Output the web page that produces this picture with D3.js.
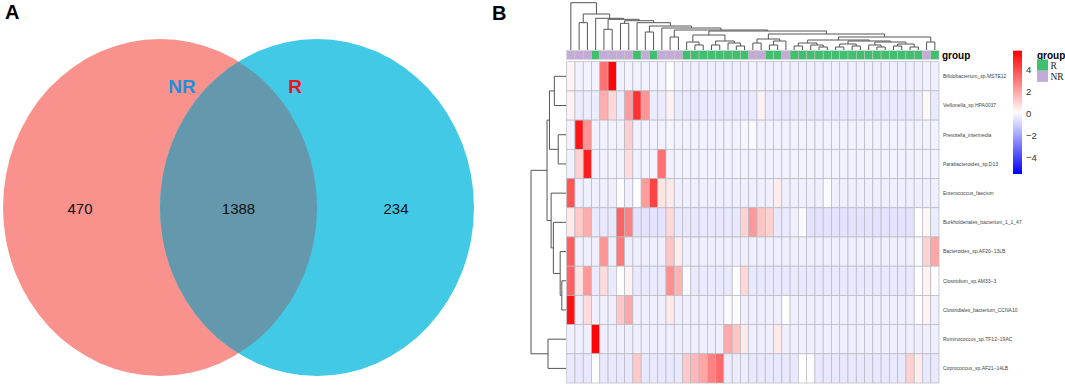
<!DOCTYPE html>
<html>
<head>
<meta charset="utf-8">
<script src="https://cdn.jsdelivr.net/npm/d3@7"></script>
<style>
  body { margin: 0; background: #fff; }
</style>
</head>
<body>
<div id="container"></div>
<script>
let w = 1065;
let h = 388;

// ---- panel A: venn ----
let vennSets = ["NR", "R"];
let vennColors = ["#f9928c", "#42c9e6"];
let vennOverlapColor = "#6498ac";
let vennLabelColors = ["#1e8fdc", "#e8141e"];
let vennCounts = [470, 1388, 234]; // NR only, both, R only

// ---- panel B: heatmap ----
let taxa = [
  "Bifidobacterium_sp.MSTE12",
  "Veillonella_sp.HPA0037",
  "Prevotella_intermedia",
  "Parabacteroides_sp.D13",
  "Enterococcus_faecium",
  "Burkholderiales_bacterium_1_1_47",
  "Bacteroides_sp.AF20\u221213LB",
  "Clostridium_sp.AM33\u22123",
  "Clostridiales_bacterium_CCNA10",
  "Ruminococcus_sp.TF12\u221219AC",
  "Coprococcus_sp.AF21\u221214LB"
];

let groups = [
  "NR","NR","NR","R","NR","NR","NR","NR","R","NR","R","NR","NR","NR","R",
  "R","R","R","R","R","R","R","NR","NR","R","R","NR","R","R","R",
  "R","R","R","R","R","R","R","R","R","R","R","R","R","NR","R"
];

let bifido = [0.25,-0.3,-0.3,-0.3,3.2,5.6,-0.3,-0.3,-0.3,-0.3,-0.3,-0.3,0.0,-0.3,-0.35,
  -0.35,-0.35,-0.35,-0.35,-0.35,-0.35,-0.35,-0.3,-0.3,-0.35,-0.35,-0.3,-0.35,-0.35,-0.35,
  -0.35,-0.35,-0.35,-0.35,-0.35,-0.35,-0.35,-0.35,-0.35,-0.35,-0.35,-0.35,-0.35,-0.3,-0.35];
let veillonella = [0.3,-0.4,-0.4,-0.4,1.8,0.9,-0.4,2.2,4.6,2.4,-0.4,-0.4,0.3,-0.45,-0.45,
  -0.45,-0.45,-0.45,-0.45,-0.45,-0.45,-0.45,-0.45,0.3,-0.45,-0.45,-0.45,-0.45,-0.45,-0.45,
  -0.45,-0.45,-0.45,-0.45,-0.45,-0.45,-0.45,-0.45,-0.45,-0.45,-0.45,-0.45,-0.4,0.15,-0.45];
let prevotella = [-0.3,5.2,2.4,-0.3,-0.3,-0.3,-0.3,1.1,-0.3,-0.3,-0.3,-0.3,-0.2,-0.3,-0.3,
  -0.3,-0.3,-0.3,-0.3,-0.3,-0.3,-0.2,-0.15,-0.3,-0.3,-0.3,-0.3,-0.3,-0.3,-0.3,
  -0.3,-0.3,-0.3,-0.3,-0.3,-0.3,-0.3,-0.3,-0.3,-0.3,-0.3,-0.3,-0.3,-0.3,-0.3];
let parabacteroides = [-0.3,1.0,5.0,-0.3,-0.3,-0.3,-0.3,0.8,-0.3,-0.3,-0.3,3.2,-0.3,-0.3,-0.3,
  -0.3,-0.3,-0.3,-0.3,-0.3,-0.3,-0.3,-0.3,-0.3,-0.3,-0.3,-0.3,-0.3,-0.3,-0.3,
  -0.3,-0.3,-0.3,-0.3,-0.3,-0.3,-0.3,-0.3,-0.3,-0.3,-0.3,-0.3,-0.3,-0.3,-0.3];
let enterococcus = [3.8,-0.35,-0.35,-0.35,-0.35,-0.35,0.05,-0.35,0.0,2.2,4.2,0.6,0.5,-0.35,-0.35,
  -0.35,-0.35,-0.35,-0.35,-0.35,-0.35,-0.35,-0.35,-0.35,-0.35,0.4,-0.35,-0.35,-0.35,-0.35,
  -0.35,-0.05,-0.35,-0.35,-0.35,-0.35,-0.35,-0.35,-0.35,-0.35,-0.35,-0.35,-0.35,-0.35,-0.35];
let burkholderiales = [0.5,1.2,1.8,-0.5,-0.5,-0.5,3.5,2.8,-0.6,-0.6,-0.6,-0.6,0.9,-0.5,-0.5,
  -0.5,-0.5,-0.5,-0.5,-0.5,-0.5,1.0,2.3,1.3,1.0,-0.5,-0.45,-0.35,-0.1,-0.6,
  -0.6,-0.6,-0.6,-0.6,-0.6,-0.6,-0.6,-0.6,-0.6,-0.6,-0.6,-0.6,0.0,0.2,-0.4];
let bacteroides = [3.6,-0.35,-0.35,-0.35,2.4,-0.35,3.0,-0.35,-0.35,-0.35,-0.35,-0.35,1.3,0.4,-0.35,
  -0.35,-0.35,-0.35,-0.35,-0.35,-0.35,-0.35,-0.35,-0.35,-0.35,-0.35,-0.35,-0.35,-0.35,-0.35,
  -0.35,-0.35,-0.35,-0.35,-0.35,-0.35,-0.35,-0.35,-0.35,-0.35,-0.35,-0.35,-0.1,1.0,2.0];
let clostridium = [3.5,0.6,2.3,-0.45,0.8,-0.45,0.0,0.3,-0.45,-0.45,-0.45,-0.45,2.5,1.7,-0.1,
  -0.45,-0.45,-0.45,-0.45,-0.45,-0.05,0.9,-0.5,-0.5,-0.5,-0.5,-0.5,-0.5,-0.5,-0.5,
  -0.5,-0.5,-0.5,-0.5,-0.5,-0.5,-0.5,-0.5,-0.5,-0.5,-0.5,-0.5,0.0,0.3,-0.05];
let clostridiales = [5.3,-0.35,0.8,-0.35,-0.35,-0.35,1.2,2.0,-0.35,-0.35,-0.35,-0.35,0.5,-0.35,-0.35,
  -0.35,-0.35,-0.35,-0.35,-0.1,-0.1,-0.35,-0.35,-0.35,-0.35,-0.35,0.0,-0.35,-0.35,-0.35,
  -0.35,-0.35,-0.35,-0.35,-0.35,-0.35,-0.35,-0.35,-0.35,-0.35,-0.35,-0.35,-0.05,0.3,-0.35];
let ruminococcus = [-0.35,-0.35,-0.35,5.6,-0.35,-0.35,-0.35,-0.35,-0.35,-0.35,-0.35,-0.35,-0.35,-0.35,-0.35,
  -0.35,-0.35,-0.35,-0.35,1.9,1.3,0.5,-0.35,-0.35,-0.35,0.5,-0.35,-0.35,-0.35,-0.35,
  -0.35,-0.35,-0.35,-0.35,-0.35,-0.35,-0.35,-0.35,-0.35,-0.35,-0.35,-0.35,-0.35,-0.35,-0.35];
let coprococcus = [-0.5,-0.5,-0.5,0.0,-0.5,-0.5,-0.5,-0.5,1.2,-0.5,-0.5,-0.5,-0.5,-0.5,1.2,
  1.6,2.0,2.8,3.3,-0.4,-0.4,-0.4,-0.5,-0.5,-0.5,-0.5,-0.5,-0.5,0.0,-0.05,
  -0.5,-0.5,-0.5,-0.5,-0.5,-0.5,-0.5,-0.5,-0.5,-0.5,-0.5,1.0,0.4,-0.5,-0.5];

let values = [bifido, veillonella, prevotella, parabacteroides, enterococcus,
  burkholderiales, bacteroides, clostridium, clostridiales, ruminococcus, coprococcus];

// dendrograms as nested [height, left, right], leaves are indices
let colTree = [47.3, 0,
  [36, [27.3, 1, 2],
    [31.7, 3,
      [30.7, [20.7, 4, 5],
        [29.3, [26.7, 6, 7],
          [27.3, 8,
            [24, [18, 9, 10],
              [22, 11,
                [20, [13, 12, 13],
                  [19,
                    [15, [8, 14, [5, 15, 16]], [9, [5, 17, 18], [7, 19, [4, 20, 21]]]],
                    [16,
                      [11, [7, 22, 23], [9, [5, 24, 25], 26]],
                      [13,
                        [10, [7, [4, 27, 28], [5, 29, [3, 30, 31]]],
                             [9, [6, [3, 32, 33], [4, 34, 35]],
                                 [8, [5, 36, [3, 37, 38]], [6, [4, 39, 40], [3, 41, 42]]]]],
                        [8, 43, 44]]]]]]]]]]]]];

let rowTree = [36,
  [19.5, [17, [12, 0, 1], [8, 2, 3]], [15.3, 4, [13, 5, [6, 6, [4.3, 7, 8]]]]],
  [18.5, 9, 10]];

let groupColors = {R: "#3fbf6f", NR: "#c4aad7"};
let legendTicks = [4, 2, 0, -2, -4];
let colorDomain = [-5.5, 0, 5.7];

let svg = d3.select("#container")
  .append("svg")
    .attr("width", w)
    .attr("height", h)
    .style("font-family", "Liberation Sans, Arial, sans-serif");

// panel letters
svg.append("text").attr("x", 5).attr("y", 19).text("A")
  .attr("font-size", 20).attr("font-weight", "bold");
svg.append("text").attr("x", 492).attr("y", 20).text("B")
  .attr("font-size", 20).attr("font-weight", "bold");

// ---- venn ----
let venn = svg.append("g");
let ell = [
  {cx: 160, cy: 207.5, rx: 157, ry: 168.5},
  {cx: 317, cy: 207.5, rx: 157, ry: 168.5}
];
ell.forEach(function(e, i){
  venn.append("ellipse")
    .attr("cx", e.cx).attr("cy", e.cy).attr("rx", e.rx).attr("ry", e.ry)
    .attr("fill", vennColors[i]);
});
svg.append("defs").append("clipPath").attr("id", "leftClip")
  .append("ellipse")
    .attr("cx", ell[0].cx).attr("cy", ell[0].cy).attr("rx", ell[0].rx).attr("ry", ell[0].ry);
venn.append("ellipse")
  .attr("cx", ell[1].cx).attr("cy", ell[1].cy).attr("rx", ell[1].rx).attr("ry", ell[1].ry)
  .attr("fill", vennOverlapColor)
  .attr("clip-path", "url(#leftClip)");

let countX = [80, 238.5, 396];
vennCounts.forEach(function(c, i){
  venn.append("text")
    .attr("x", countX[i]).attr("y", 213.5)
    .attr("text-anchor", "middle")
    .attr("font-size", 15)
    .attr("fill", "#111")
    .text(c);
});
let setLabelX = [182, 295];
vennSets.forEach(function(s, i){
  venn.append("text")
    .attr("x", setLabelX[i]).attr("y", 93)
    .attr("text-anchor", "middle")
    .attr("font-size", 19)
    .attr("font-weight", "bold")
    .attr("fill", vennLabelColors[i])
    .text(s);
});

// ---- heatmap ----
let nCol = groups.length;
let xScale = d3.scaleBand().domain(d3.range(nCol)).range([566.7, 939]);
let yScale = d3.scaleBand().domain(d3.range(taxa.length)).range([61.7, 383]);
let colorScale = d3.scaleLinear().domain(colorDomain).range(["#0000ff", "#ffffff", "#ff0000"]);

let cells = [];
values.forEach(function(row, r){
  row.forEach(function(v, c){
    cells.push({r: r, c: c, v: v});
  });
});

let heat = svg.append("g");
heat.selectAll("rect.cell").data(cells).enter()
  .append("rect")
    .attr("class", "cell")
    .attr("x", function(d){ return xScale(d.c); })
    .attr("y", function(d){ return yScale(d.r); })
    .attr("width", xScale.bandwidth())
    .attr("height", yScale.bandwidth())
    .attr("fill", function(d){ return colorScale(d.v); })
    .attr("stroke", "#b8b8c0")
    .attr("stroke-width", 0.7);

// group annotation bar
heat.selectAll("rect.grp").data(groups).enter()
  .append("rect")
    .attr("class", "grp")
    .attr("x", function(d, i){ return xScale(i); })
    .attr("y", 50.7)
    .attr("width", xScale.bandwidth())
    .attr("height", 8.6)
    .attr("fill", function(d){ return groupColors[d]; })
    .attr("stroke", "#c8c8c8")
    .attr("stroke-width", 0.5);

svg.append("text").attr("x", 942).attr("y", 58.5).text("group")
  .attr("font-size", 10).attr("font-weight", "bold");

// row labels
heat.selectAll("text.lab").data(taxa).enter()
  .append("text")
    .attr("class", "lab")
    .attr("x", 943)
    .attr("y", function(d, i){ return yScale(i) + yScale.bandwidth() / 2 + 1.8; })
    .attr("font-size", 5)
    .attr("fill", "#444")
    .text(function(d){ return d; });

// dendrograms
function treeHeight(node){ return typeof node === "number" ? 0 : node[0]; }

function drawTree(g, node, leafPos, hScale, horizontal){
  if(typeof node === "number"){
    return {pos: leafPos(node), h: 0};
  }
  let a = drawTree(g, node[1], leafPos, hScale, horizontal);
  let b = drawTree(g, node[2], leafPos, hScale, horizontal);
  let hh = hScale(node[0]);
  let pts;
  if(horizontal){
    pts = [[a.pos, hScale(a.h)], [a.pos, hh], [b.pos, hh], [b.pos, hScale(b.h)]];
  }else{
    pts = [[hScale(a.h), a.pos], [hh, a.pos], [hh, b.pos], [hScale(b.h), b.pos]];
  }
  g.append("path")
    .attr("d", d3.line()(pts))
    .attr("fill", "none")
    .attr("stroke", "#555")
    .attr("stroke-width", 1);
  return {pos: (a.pos + b.pos) / 2, h: node[0]};
}

let colH = d3.scaleLinear().domain([0, treeHeight(colTree)]).range([50, 2.7]);
drawTree(svg.append("g"), colTree, function(i){ return xScale(i) + xScale.bandwidth() / 2; }, colH, true);

let rowH = d3.scaleLinear().domain([0, treeHeight(rowTree)]).range([566, 531]);
drawTree(svg.append("g"), rowTree, function(i){ return yScale(i) + yScale.bandwidth() / 2; }, rowH, false);

// color legend
let legY = d3.scaleLinear().domain([colorDomain[0], colorDomain[2]]).range([174, 50.7]);
let grad = svg.select("defs").append("linearGradient")
  .attr("id", "heatGrad").attr("x1", 0).attr("y1", 1).attr("x2", 0).attr("y2", 0);
d3.range(0, 1.0001, 0.1).forEach(function(t){
  let v = colorDomain[0] + t * (colorDomain[2] - colorDomain[0]);
  grad.append("stop").attr("offset", t).attr("stop-color", colorScale(v));
});
svg.append("rect")
  .attr("x", 1013).attr("y", legY(colorDomain[2]))
  .attr("width", 9).attr("height", legY(colorDomain[0]) - legY(colorDomain[2]))
  .attr("fill", "url(#heatGrad)");
legendTicks.forEach(function(t){
  svg.append("text")
    .attr("x", 1026).attr("y", legY(t) + 3.5)
    .attr("font-size", 9.5)
    .attr("fill", "#333")
    .text(t < 0 ? "\u2212" + Math.abs(t) : t);
});

// group legend
svg.append("text").attr("x", 1037).attr("y", 58.5).text("group")
  .attr("font-size", 10).attr("font-weight", "bold");
["R", "NR"].forEach(function(g, i){
  svg.append("rect")
    .attr("x", 1037).attr("y", 59.5 + i * 11.2)
    .attr("width", 11).attr("height", 11.2)
    .attr("fill", groupColors[g]);
  svg.append("text")
    .attr("x", 1050.5).attr("y", 68.5 + i * 11.2)
    .attr("font-size", 9.5)
    .attr("font-family", "Liberation Serif, Times New Roman, serif")
    .attr("fill", "#222")
    .text(g);
});
</script>
</body>
</html>
